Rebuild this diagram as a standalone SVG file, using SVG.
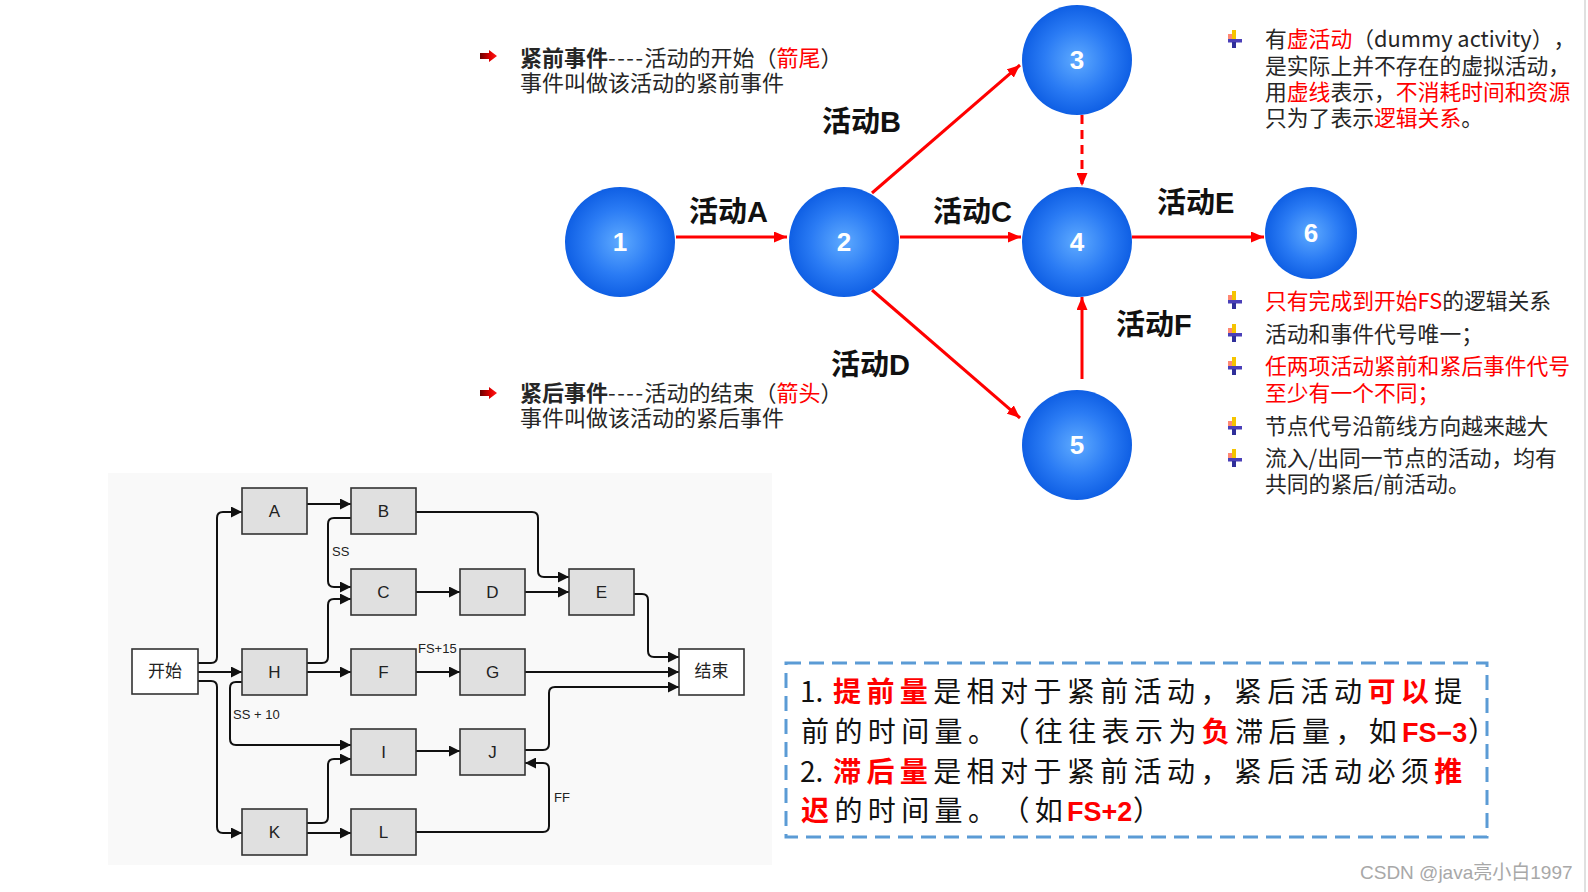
<svg xmlns="http://www.w3.org/2000/svg" width="1588" height="892" viewBox="0 0 1588 892">
<style>
text{text-spacing-trim:space-all;font-feature-settings:"chws" 0,"halt" 0}
.cn{font-family:"Noto Sans CJK SC","Liberation Sans",sans-serif;font-size:21.8px;fill:#262626}
.big{font-size:22px}
.red{fill:#ff0000}
.b{font-weight:bold}
.lbl{font-family:"Liberation Sans","Noto Sans CJK SC",sans-serif;font-size:29px;font-weight:bold;fill:#111}
.num{font-family:"Liberation Sans",sans-serif;font-size:26px;font-weight:bold;fill:#fff;text-anchor:middle}
.ra{fill:none;stroke:#f00;stroke-width:3}
.bx{fill:#e0e0e0;stroke:#333;stroke-width:1.6}
.bw{fill:#fff;stroke:#333;stroke-width:1.6}
.bt{font-family:"Liberation Sans","Noto Sans CJK SC",sans-serif;font-size:17px;fill:#222;text-anchor:middle}
.ct{fill:none;stroke:#111;stroke-width:2}
.sm{font-family:"Liberation Sans",sans-serif;font-size:13px;fill:#222}
.kt{font-family:"Noto Sans CJK SC","Liberation Sans",sans-serif;font-size:28px;fill:#111}
.lat{font-family:"Liberation Sans",sans-serif;font-weight:bold;font-size:27px;fill:#f00;letter-spacing:0}
</style>
<defs>
<radialGradient id="cg" cx="0.5" cy="0.5" r="0.5">
<stop offset="0" stop-color="#5eaaff"/>
<stop offset="0.6" stop-color="#2a7bf4"/>
<stop offset="1" stop-color="#0f5fe4"/>
</radialGradient>
<linearGradient id="rg" x1="0" y1="0" x2="1" y2="0">
<stop offset="0" stop-color="#6a0000"/>
<stop offset="0.6" stop-color="#e00000"/>
<stop offset="1" stop-color="#ff1a1a"/>
</linearGradient>
<marker id="mr" markerUnits="userSpaceOnUse" markerWidth="13" markerHeight="11" refX="13" refY="5.5" orient="auto">
<path d="M0,0 L13,5.5 L0,11 z" fill="#f00"/>
</marker>
<marker id="mb" markerUnits="userSpaceOnUse" markerWidth="11" markerHeight="11" refX="11" refY="5.5" orient="auto">
<path d="M0,0 L11,5.5 L0,11 z" fill="#111"/>
</marker>
<g id="bulR">
<path d="M0,-3 H9 V-6 L17,0 L9,6 V3 H0 z" fill="url(#rg)"/>
</g>
<g id="bulY">
<rect x="-6" y="-5" width="4" height="5" fill="#ff6a50" opacity="0.8"/>
<rect x="-2" y="-9" width="4" height="9" fill="#f5c400"/>
<rect x="-6" y="0" width="14" height="3.5" fill="#4a3fb8"/>
<rect x="-2" y="3" width="4" height="6" fill="#2f2f9a"/>
</g>
</defs>
<rect width="1588" height="892" fill="#fff"/>
<line x1="1585" y1="0" x2="1585" y2="892" stroke="#d6d6d6" stroke-width="1.5"/>

<!-- network connectors -->
<g id="net-connectors">
<path class="ra" d="M676,237 H787" marker-end="url(#mr)"/>
<path class="ra" d="M900,237 H1021" marker-end="url(#mr)"/>
<path class="ra" d="M1132,237 H1264" marker-end="url(#mr)"/>
<path class="ra" d="M872,193 L1020,65" marker-end="url(#mr)"/>
<path class="ra" d="M872,290 L1020,418" marker-end="url(#mr)"/>
<path class="ra" d="M1082,379 V297" marker-end="url(#mr)"/>
<path class="ra" d="M1082,115 V186" stroke-dasharray="9 6" marker-end="url(#mr)"/>
</g>

<g id="net-labels">
<text class="lbl" x="689" y="222">活动A</text>
<text class="lbl" x="822" y="132">活动B</text>
<text class="lbl" x="933" y="222">活动C</text>
<text class="lbl" x="831" y="375">活动D</text>
<text class="lbl" x="1157" y="213">活动E</text>
<text class="lbl" x="1116" y="335">活动F</text>
</g>

<g id="n1"><circle cx="620" cy="242" r="55" fill="url(#cg)"/><text class="num" x="620" y="251">1</text></g>
<g id="n2"><circle cx="844" cy="242" r="55" fill="url(#cg)"/><text class="num" x="844" y="251">2</text></g>
<g id="n3"><circle cx="1077" cy="60" r="55" fill="url(#cg)"/><text class="num" x="1077" y="69">3</text></g>
<g id="n4"><circle cx="1077" cy="242" r="55" fill="url(#cg)"/><text class="num" x="1077" y="251">4</text></g>
<g id="n5"><circle cx="1077" cy="445" r="55" fill="url(#cg)"/><text class="num" x="1077" y="454">5</text></g>
<g id="n6"><circle cx="1311" cy="233" r="46" fill="url(#cg)"/><text class="num" x="1311" y="242">6</text></g>

<!-- notes -->
<g id="note-pre">
<use href="#bulR" x="480" y="56"/>
<text class="cn big" x="520" y="66"><tspan class="b">紧前事件</tspan><tspan letter-spacing="1.5">----</tspan>活动的开始（<tspan class="red">箭尾</tspan>）</text>
<text class="cn big" x="520" y="91">事件叫做该活动的紧前事件</text>
</g>
<g id="note-post">
<use href="#bulR" x="480" y="393"/>
<text class="cn big" x="520" y="401"><tspan class="b">紧后事件</tspan><tspan letter-spacing="1.5">----</tspan>活动的结束（<tspan class="red">箭头</tspan>）</text>
<text class="cn big" x="520" y="426">事件叫做该活动的紧后事件</text>
</g>
<g id="note-dummy">
<use href="#bulY" x="1234" y="39"/>
<text class="cn" x="1265" y="47">有<tspan class="red">虚活动</tspan>（dummy activity），</text>
<text class="cn" x="1265" y="74">是实际上并不存在的虚拟活动，</text>
<text class="cn" x="1265" y="100">用<tspan class="red">虚线</tspan>表示，<tspan class="red">不消耗时间和资源</tspan></text>
<text class="cn" x="1265" y="126">只为了表示<tspan class="red">逻辑关系</tspan>。</text>
</g>
<g id="note-rules">
<use href="#bulY" x="1234" y="300"/>
<use href="#bulY" x="1234" y="333"/>
<use href="#bulY" x="1234" y="366"/>
<use href="#bulY" x="1234" y="426"/>
<use href="#bulY" x="1234" y="458"/>
<text class="cn" x="1265" y="309"><tspan class="red">只有完成到开始FS</tspan>的逻辑关系</text>
<text class="cn" x="1265" y="342">活动和事件代号唯一；</text>
<text class="cn red" x="1265" y="374">任两项活动紧前和紧后事件代号</text>
<text class="cn red" x="1265" y="401">至少有一个不同；</text>
<text class="cn" x="1265" y="434">节点代号沿箭线方向越来越大</text>
<text class="cn" x="1265" y="466">流入/出同一节点的活动，均有</text>
<text class="cn" x="1265" y="492">共同的紧后/前活动。</text>
</g>

<!-- precedence diagram -->
<rect x="108" y="473" width="664" height="392" fill="#f9f9f9"/>
<g id="pd-connectors">
<path class="ct" d="M198,663 H211 Q217,663 217,657 V518 Q217,512 223,512 H242" marker-end="url(#mb)"/>
<path class="ct" d="M198,672 H242" marker-end="url(#mb)"/>
<path class="ct" d="M198,681 H211 Q217,681 217,687 V827 Q217,833 223,833 H242" marker-end="url(#mb)"/>
<path class="ct" d="M307,504 H351" marker-end="url(#mb)"/>
<path class="ct" d="M416,512 H532 Q538,512 538,518 V571 Q538,577 544,577 H569" marker-end="url(#mb)"/>
<path class="ct" d="M351,518 H334 Q328,518 328,524 V581 Q328,587 334,587 H351" marker-end="url(#mb)"/>
<path class="ct" d="M307,663 H322 Q328,663 328,657 V605 Q328,599 334,599 H351" marker-end="url(#mb)"/>
<path class="ct" d="M307,672 H351" marker-end="url(#mb)"/>
<path class="ct" d="M242,682 H236 Q230,682 230,688 V739 Q230,745 236,745 H351" marker-end="url(#mb)"/>
<path class="ct" d="M307,823 H322 Q328,823 328,817 V765 Q328,759 334,759 H351" marker-end="url(#mb)"/>
<path class="ct" d="M307,833 H351" marker-end="url(#mb)"/>
<path class="ct" d="M416,592 H460" marker-end="url(#mb)"/>
<path class="ct" d="M525,592 H569" marker-end="url(#mb)"/>
<path class="ct" d="M634,594 H642 Q648,594 648,600 V651 Q648,657 654,657 H679" marker-end="url(#mb)"/>
<path class="ct" d="M416,672 H460" marker-end="url(#mb)"/>
<path class="ct" d="M525,672 H679" marker-end="url(#mb)"/>
<path class="ct" d="M416,751 H460" marker-end="url(#mb)"/>
<path class="ct" d="M525,750 H543 Q549,750 549,744 V693 Q549,687 555,687 H679" marker-end="url(#mb)"/>
<path class="ct" d="M416,832 H543 Q549,832 549,826 V769 Q549,763 543,763 H525" marker-end="url(#mb)"/>
<text class="sm" x="332" y="556">SS</text>
<text class="sm" x="233" y="719">SS + 10</text>
<text class="sm" x="418" y="653">FS+15</text>
<text class="sm" x="554" y="802">FF</text>
</g>
<g id="start"><rect class="bw" x="132" y="649" width="66" height="45"/><text class="bt" x="165" y="677" font-size="15">开始</text></g>
<g id="A"><rect class="bx" x="242" y="488" width="65" height="46"/><text class="bt" x="274.5" y="517">A</text></g>
<g id="B"><rect class="bx" x="351" y="488" width="65" height="46"/><text class="bt" x="383.5" y="517">B</text></g>
<g id="C"><rect class="bx" x="351" y="569" width="65" height="46"/><text class="bt" x="383.5" y="598">C</text></g>
<g id="D"><rect class="bx" x="460" y="569" width="65" height="46"/><text class="bt" x="492.5" y="598">D</text></g>
<g id="E"><rect class="bx" x="569" y="569" width="65" height="46"/><text class="bt" x="601.5" y="598">E</text></g>
<g id="H"><rect class="bx" x="242" y="649" width="65" height="46"/><text class="bt" x="274.5" y="678">H</text></g>
<g id="F"><rect class="bx" x="351" y="649" width="65" height="46"/><text class="bt" x="383.5" y="678">F</text></g>
<g id="G"><rect class="bx" x="460" y="649" width="65" height="46"/><text class="bt" x="492.5" y="678">G</text></g>
<g id="end"><rect class="bw" x="679" y="649" width="65" height="46"/><text class="bt" x="711.5" y="677" font-size="15">结束</text></g>
<g id="I"><rect class="bx" x="351" y="729" width="65" height="46"/><text class="bt" x="383.5" y="758">I</text></g>
<g id="J"><rect class="bx" x="460" y="729" width="65" height="46"/><text class="bt" x="492.5" y="758">J</text></g>
<g id="K"><rect class="bx" x="242" y="809" width="65" height="46"/><text class="bt" x="274.5" y="838">K</text></g>
<g id="L"><rect class="bx" x="351" y="809" width="65" height="46"/><text class="bt" x="383.5" y="838">L</text></g>

<!-- lead / lag box -->
<g id="leadlag">
<rect x="786" y="663" width="701" height="174" fill="none" stroke="#5b9bd5" stroke-width="3" stroke-dasharray="15 8"/>
<text class="kt" y="702"><tspan x="800">1.</tspan><tspan x="833" letter-spacing="5.4"><tspan class="red b">提前量</tspan>是相对于紧前活动，紧后活动<tspan class="red b">可以</tspan>提</tspan></text>
<text class="kt" y="742"><tspan x="801" letter-spacing="5.4">前的时间量。（往往表示为<tspan class="red b">负</tspan>滞后量，如</tspan><tspan class="lat" x="1402">FS−3</tspan><tspan x="1468">）</tspan></text>
<text class="kt" y="782"><tspan x="800">2.</tspan><tspan x="833" letter-spacing="5.4"><tspan class="red b">滞后量</tspan>是相对于紧前活动，紧后活动必须<tspan class="red b">推</tspan></tspan></text>
<text class="kt" y="821"><tspan x="801" letter-spacing="5.4"><tspan class="red b">迟</tspan>的时间量。（如</tspan><tspan class="lat" x="1067">FS+2</tspan><tspan x="1133">）</tspan></text>
</g>

<text x="1360" y="879" font-family="Liberation Sans,Noto Sans CJK SC,sans-serif" font-size="19" fill="#a8a8a8">CSDN @java亮小白1997</text>
</svg>
